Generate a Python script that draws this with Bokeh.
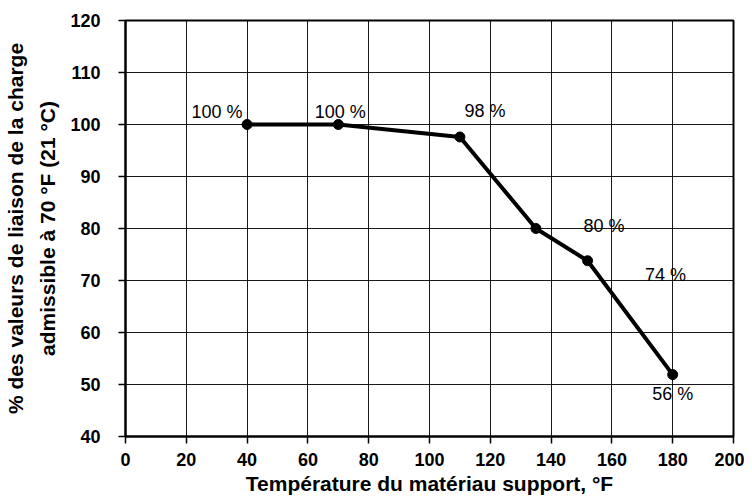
from bokeh.plotting import figure
from bokeh.models import ColumnDataSource, FixedTicker
from bokeh.core.properties import value
from bokeh.embed import file_html
from bokeh.resources import INLINE

temps = [40, 70, 110, 135, 152, 180]
pct = [100, 100, 97.6, 80, 73.8, 51.9]
labels = ["100 %", "100 %", "98 %", "80 %", "74 %", "56 %"]
x_ticks = list(range(0, 201, 20))
y_ticks = list(range(40, 121, 10))

# label placement (screen-pixel offsets from each point)
dx = [-30, 2, 25, 68, 78, 0]
dy = [-13, -13, -26, -3, 14, 19]

src = ColumnDataSource(dict(x=temps, y=pct, t=labels, dx=dx, dy=dy))

p = figure(width=744, height=501, x_range=(0, 200), y_range=(40, 120),
           output_backend="svg", toolbar_location=None,
           min_border_left=125, min_border_right=11, min_border_top=20, min_border_bottom=65)

p.background_fill_color = "white"
p.border_fill_color = "white"
p.outline_line_color = "black"
p.outline_line_width = 2

for ax in (p.xaxis[0], p.yaxis[0]):
    ax.axis_line_color = "black"
    ax.axis_line_width = 2
    ax.major_tick_line_color = "black"
    ax.major_tick_line_width = 1.5
    ax.major_tick_out = 7
    ax.major_tick_in = 0
    ax.minor_tick_line_color = None
    ax.major_label_text_font = "Liberation Sans"
    ax.major_label_text_font_style = "bold"
    ax.major_label_text_font_size = "18px"
    ax.major_label_text_color = "black"
    ax.axis_label_text_font = "Liberation Sans"
    ax.axis_label_text_font_style = "bold"
    ax.axis_label_text_font_size = "21px"
    ax.axis_label_text_color = "black"

p.xaxis.ticker = FixedTicker(ticks=x_ticks)
p.yaxis.ticker = FixedTicker(ticks=y_ticks)
p.xaxis.axis_label = "Température du matériau support, °F"
p.yaxis.axis_label = "% des valeurs de liaison de la charge\nadmissible à 70 °F (21 °C)"
p.yaxis.axis_label_text_line_height = 1.4
p.xaxis.major_label_standoff = 9
p.yaxis.major_label_text_align = "center"
p.yaxis.major_label_standoff = 18
p.xaxis.axis_label_standoff = 3
p.yaxis.axis_label_standoff = 8

for g in (p.xgrid[0], p.ygrid[0]):
    g.grid_line_color = "black"
    g.grid_line_width = 1
    g.grid_line_alpha = 0.9
p.xgrid.ticker = FixedTicker(ticks=x_ticks)
p.ygrid.ticker = FixedTicker(ticks=y_ticks)

p.line("x", "y", source=src, line_color="black", line_width=4)
p.scatter("x", "y", source=src, size=10, color="black")
p.text("x", "y", text="t", source=src, x_offset="dx", y_offset="dy",
       text_align="center", text_baseline="alphabetic",
       text_font=value("Liberation Sans"), text_font_size="18px", text_color="black")

open("out.html", "w").write(file_html(p, INLINE))
